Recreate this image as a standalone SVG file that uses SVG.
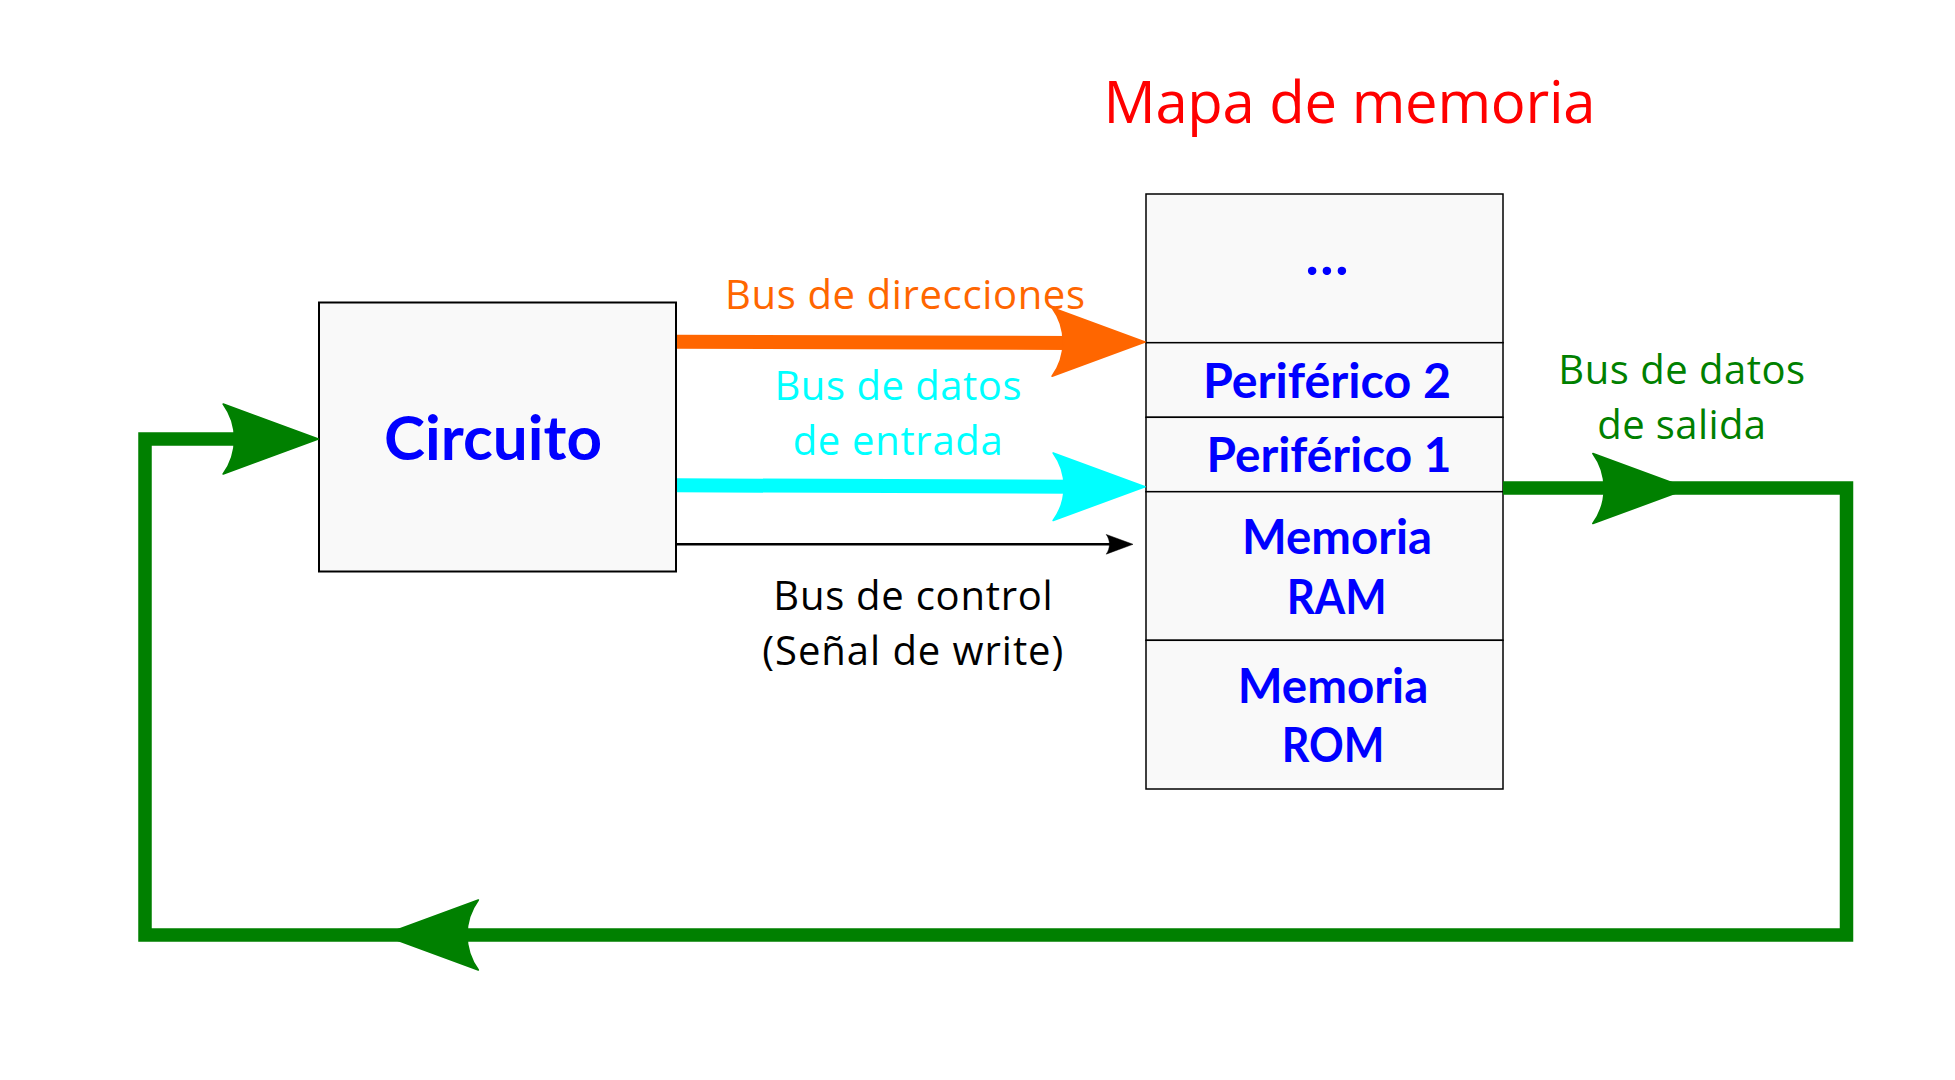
<svg xmlns="http://www.w3.org/2000/svg" xmlns:xlink="http://www.w3.org/1999/xlink" width="1955" height="1080" viewBox="0 0 1955 1080">
<style>
  .box { fill: #f9f9f9; stroke: #000; }
  .lbl { font-family: "Open Sans", "Noto Sans", "Liberation Sans", sans-serif; text-anchor: middle; }
  .bold { font-family: Lato, "Noto Sans", "Liberation Sans", sans-serif; font-weight: bold; fill: #0000ff; font-size: 47px; }
  .big { font-size: 61px; }
  .dots { font-size: 56px; }
  .bus { font-size: 40px; }
  .head { stroke-linejoin: round; stroke-width: 0.2; }
</style>
<defs>
  <path id="ah" d="M0,0 L-10.93,-4.02 C-9.18,-1.64 -9.18,1.63 -10.93,4.02 Z"/>
</defs>
<rect width="1955" height="1080" fill="#ffffff"/>

<text id="title" class="lbl" x="1349.5" y="123" font-size="58" fill="#ff0000" textLength="492">Mapa de memoria</text>

<g id="circuito">
  <rect class="box" x="319" y="302.5" width="357" height="269" stroke-width="2"/>
  <text class="lbl bold big" x="493" y="460" textLength="218" lengthAdjust="spacingAndGlyphs">Circuito</text>
</g>

<g id="mapa-memoria">
  <g id="celda-otros">
    <rect class="box" x="1146" y="194" width="357" height="148.7" stroke-width="1.5"/>
    <text class="lbl bold dots" x="1327" y="275" textLength="43">...</text>
  </g>
  <g id="celda-periferico2">
    <rect class="box" x="1146" y="342.7" width="357" height="74.6" stroke-width="1.5"/>
    <text class="lbl bold" x="1327" y="397.7" textLength="248" lengthAdjust="spacingAndGlyphs">Periférico 2</text>
  </g>
  <g id="celda-periferico1">
    <rect class="box" x="1146" y="417.3" width="357" height="74.4" stroke-width="1.5"/>
    <text class="lbl bold" x="1329" y="471.7" textLength="245" lengthAdjust="spacingAndGlyphs">Periférico 1</text>
  </g>
  <g id="celda-ram">
    <rect class="box" x="1146" y="491.7" width="357" height="148.6" stroke-width="1.5"/>
    <text class="lbl bold" x="1337" y="554.3" textLength="190" lengthAdjust="spacingAndGlyphs">Memoria</text>
    <text class="lbl bold" x="1336.7" y="614" textLength="100" lengthAdjust="spacingAndGlyphs">RAM</text>
  </g>
  <g id="celda-rom">
    <rect class="box" x="1146" y="640.3" width="357" height="148.7" stroke-width="1.5"/>
    <text class="lbl bold" x="1333" y="702.7" textLength="190.6" lengthAdjust="spacingAndGlyphs">Memoria</text>
    <text class="lbl bold" x="1333" y="762.3" textLength="102.6" lengthAdjust="spacingAndGlyphs">ROM</text>
  </g>
</g>

<g id="connectors">
  <!-- Bus de direcciones -->
  <line x1="677" y1="341.8" x2="1070" y2="343" stroke="#ff6600" stroke-width="14"/>
  <use xlink:href="#ah" class="head" fill="#ff6600" stroke="#ff6600" transform="translate(1145,342) scale(8.5)"/>
  <!-- Bus de datos de entrada -->
  <line x1="677" y1="485.3" x2="1070" y2="486.8" stroke="#00ffff" stroke-width="14"/>
  <use xlink:href="#ah" class="head" fill="#00ffff" stroke="#00ffff" transform="translate(1145,486.7) scale(8.4)"/>
  <!-- Bus de control -->
  <line x1="677" y1="544.3" x2="1120" y2="544.3" stroke="#000" stroke-width="2.6"/>
  <use xlink:href="#ah" class="head" fill="#000" stroke="#000" transform="translate(1133,544.3) scale(2.45)"/>
  <!-- Bus de datos de salida (loop) -->
  <path d="M1503,488 L1846.5,488 L1846.5,935 L145,935 L145,439 L300,439" fill="none" stroke="#008000" stroke-width="13.5"/>
  <use xlink:href="#ah" class="head" fill="#008000" stroke="#008000" transform="translate(1688,488.5) scale(8.7)"/>
  <use xlink:href="#ah" class="head" fill="#008000" stroke="#008000" transform="translate(383.2,935) rotate(180) scale(8.7)"/>
  <use xlink:href="#ah" class="head" fill="#008000" stroke="#008000" transform="translate(318.3,439) scale(8.7)"/>

  <text class="lbl bus" x="905" y="309.3" fill="#ff6600" textLength="360">Bus de direcciones</text>
  <text class="lbl bus" x="898" y="400" fill="#00ffff" textLength="247">Bus de datos</text>
  <text class="lbl bus" x="897.7" y="455" fill="#00ffff" textLength="210">de entrada</text>
  <text class="lbl bus" x="913" y="610" fill="#000000" textLength="279.4">Bus de control</text>
  <text class="lbl bus" x="912.8" y="665" fill="#000000" textLength="301">(Señal de write)</text>
  <text class="lbl bus" x="1681.7" y="384.3" fill="#008000" textLength="246.7">Bus de datos</text>
  <text class="lbl bus" x="1681.7" y="439" fill="#008000" textLength="168.7">de salida</text>
</g>
</svg>
